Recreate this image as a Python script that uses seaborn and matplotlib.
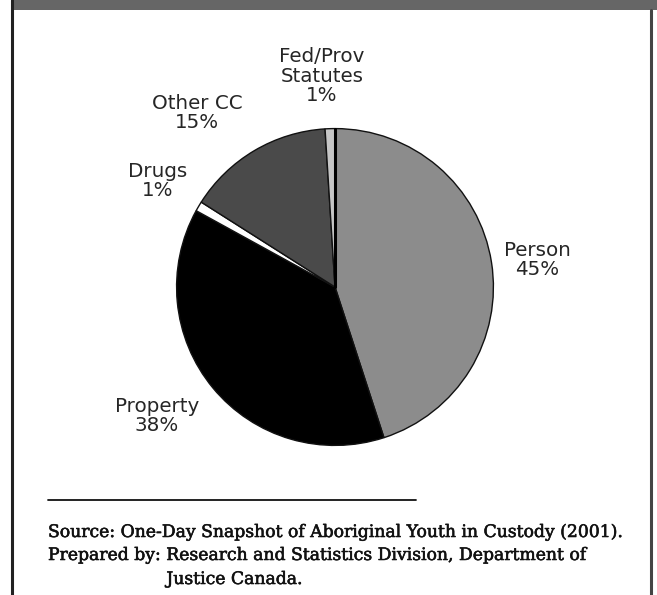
import matplotlib
matplotlib.use("Agg")
import matplotlib.pyplot as plt
import matplotlib.patheffects as pe
import seaborn as sns

# Offence categories for youth in custody, with their shares (%)
categories = ["Person", "Property", "Drugs", "Other CC", "Fed/Prov\nStatutes"]
shares = [45, 38, 1, 15, 1]
slice_colors = ["#8c8c8c", "#000000", "#ffffff", "#4a4a4a", "#c6c6c6"]

source_line = "Source: One-Day Snapshot of Aboriginal Youth in Custody (2001)."
prepared_head = "Prepared by: "
prepared_rest = "Research and Statistics Division, Department of"
prepared_tail = "Justice Canada."

sns.set_theme(style="white")
plt.rcParams["font.family"] = ["DejaVu Sans"]

W, H = 657, 595
fig = plt.figure(figsize=(W / 100, H / 100), dpi=100)
fig.patch.set_facecolor("white")


def fx(x):
    return x / W


def fy(y):
    return 1 - y / H


# page frame: grey band on top, dark rules at the sides
band = fig.add_axes([0, 0, 1, 1], zorder=0)
band.set_xlim(0, W)
band.set_ylim(H, 0)
band.axis("off")
band.fill_between([11, W], 0, 10, color="#666666", lw=0)
band.plot([11.5, 11.5], [0, H], color="#222222", lw=2.2)
band.plot([651, 651], [10, H], color="#444444", lw=2.2)
band.plot([48, 416], [500, 500], color="#111111", lw=1.3)

# pie centred at (335, 287) px with radius 160 px
cx, cy, r = 335, 287, 160
ax = fig.add_axes([fx(cx - r), fy(cy + r), 2 * r / W, 2 * r / H], zorder=1)
wedges, _ = ax.pie(
    shares,
    colors=slice_colors,
    startangle=90,
    counterclock=False,
    radius=1,
    wedgeprops=dict(edgecolor="#111111", linewidth=1.0),
)
# heavier rule where the first slice starts
ax.plot([0, 0], [0, 1], color="#000000", lw=2.2)
ax.set_xlim(-1.01, 1.01)
ax.set_ylim(-1.01, 1.01)
ax.axis("off")

# slice labels (name + share)
label_pos = {
    "Person": (537, 260),
    "Property": (157, 416),
    "Drugs": (158, 181),
    "Other CC": (197, 113),
    "Fed/Prov\nStatutes": (322, 76),
}
for name, val in zip(categories, shares):
    x, y = label_pos[name]
    fig.text(fx(x), fy(y), f"{name}\n{val}%", ha="center", va="center",
             fontsize=14.3, color="#262626", linespacing=1.05)

# source note, slightly thickened serif
ink = "#111111"
serif = dict(family="DejaVu Serif", fontsize=12.4, color=ink,
             path_effects=[pe.withStroke(linewidth=0.4, foreground=ink)])
fig.text(fx(48), fy(537), source_line, ha="left", va="baseline", **serif)
fig.text(fx(48), fy(560), prepared_head + prepared_rest, ha="left",
         va="baseline", **serif)
fig.canvas.draw()
probe = fig.text(fx(48), fy(560), prepared_head.rstrip() + " ", alpha=0, **serif)
renderer = fig.canvas.get_renderer()
ext = probe.get_window_extent(renderer)
probe.remove()
fig.text(ext.x1 / W, fy(584), prepared_tail, ha="left", va="baseline", **serif)

fig.savefig("out.png", dpi=100, facecolor="white")
